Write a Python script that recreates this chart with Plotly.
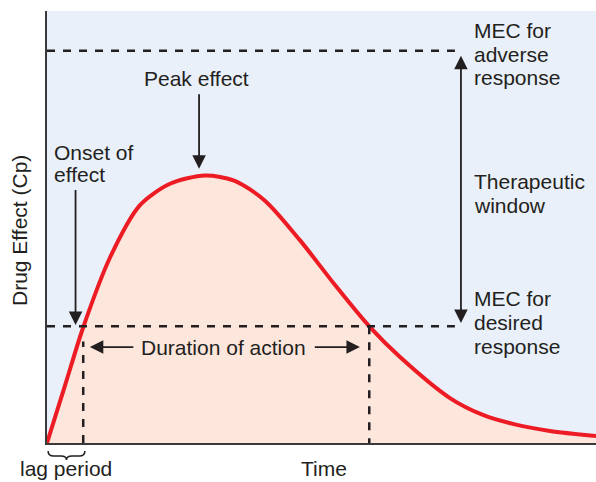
import plotly.graph_objects as go

# ---- data (arbitrary units: time 0-100, effect 0-100) ----
time = [0, 3.3, 6.6, 11.5, 16.9, 22.4, 28.8, 34.2, 39.7, 46.1, 52.5, 58.7, 64.3, 73.4, 79.4, 85.6, 91.6, 100]
effect = [0, 13.4, 26.8, 43.0, 55.0, 60.0, 61.9, 60.7, 56.1, 46.9, 36.5, 27.0, 19.9, 10.4, 6.5, 4.2, 2.8, 1.6]

mec_desired = 27.0
mec_adverse = 90.8
onset_time = 6.6
end_time = 58.7
peak_time = 27.7
peak_effect = 61.9

right_labels = [
    ("MEC for", 95.4), ("adverse", 90.0), ("response", 84.5),
    ("Therapeutic", 60.5), ("window", 55.0),
    ("MEC for", 33.5), ("desired", 27.9), ("response", 22.4),
]

TXT = "#231f20"
FONT = dict(family="Liberation Sans, Arial, sans-serif", size=21, color=TXT)
BLUE = "#e9f0f9"
PINK = "#fde6dc"
RED = "#ed1c24"

fig = go.Figure()

fig.add_trace(go.Scatter(
    x=time, y=effect, mode="lines",
    line=dict(color=RED, width=4, shape="spline", smoothing=0.8),
    fill="tozeroy", fillcolor=PINK, hoverinfo="skip", cliponaxis=False,
))

dash_x_end = 74.3
dash = dict(color=TXT, width=2.5, dash="8px,8px")
for lvl in (mec_adverse, mec_desired):
    fig.add_trace(go.Scatter(x=[0, dash_x_end], y=[lvl, lvl], mode="lines", line=dash, hoverinfo="skip"))
fig.add_trace(go.Scatter(x=[onset_time, onset_time], y=[0, mec_desired - 3.5], mode="lines", line=dash, hoverinfo="skip"))
fig.add_trace(go.Scatter(x=[end_time, end_time], y=[mec_desired, 0], mode="lines", line=dash, hoverinfo="skip"))

ann = []
def arrow(x, y, ax, ay, both=False):
    d = dict(x=x, y=y, ax=ax, ay=ay, xref="x", yref="y", axref="x", ayref="y",
             text="", showarrow=True, arrowhead=2, arrowsize=1.5, arrowwidth=1.8,
             arrowcolor=TXT, standoff=0, startstandoff=0)
    if both:
        d["arrowside"] = "end+start"
        d["startarrowhead"] = 2
        d["startarrowsize"] = 1.5
    ann.append(d)

def text(t, x, y, xanchor="left", xref="x", yref="y", **kw):
    ann.append(dict(x=x, y=y, xref=xref, yref=yref, text=t, showarrow=False,
                    xanchor=xanchor, yanchor="middle", font=FONT, **kw))

arrow(75.4, mec_desired + 0.8, 75.4, mec_adverse - 0.8, both=True)
arrow(5.2, mec_desired + 0.3, 5.2, 58.9)
arrow(peak_time, peak_effect + 1.6, peak_time, 81.1)
arrow(7.8, 22.2, 16.0, 22.2)
arrow(57.0, 22.2, 48.5, 22.2)

text("Duration of action", 32.2, 22.2, xanchor="center")
text("Peak effect", 27.3, 84.3, xanchor="center")
text("Onset of", 1.0, 67.2)
text("effect", 1.0, 62.1)
for t, y in right_labels:
    text(t, 77.5, y)
# outside plot area -> paper coordinates (range 0..100 maps to paper 0..1)
text("lag period", 3.5, -0.060, xanchor="center", yref="paper")
text("Time", 50.5, -0.060, xanchor="center", yref="paper")
text("Drug Effect (Cp)", -0.05, 0.492, xanchor="center", xref="paper", yref="paper", textangle=-90)

def py(px):
    return (443 - px) / 433.0
x0, x1 = 0.2, 6.9
mid = (x0 + x1) / 2
q = 1.0
yt, ym, yb = py(451), py(456), py(460)
brace = (f"M {x0},{yt} Q {x0},{ym} {x0+q},{ym} L {mid-q},{ym} Q {mid},{ym} {mid},{yb} "
         f"Q {mid},{ym} {mid+q},{ym} L {x1-q},{ym} Q {x1},{ym} {x1},{yt}")
shapes = [dict(type="path", path=brace, xref="x", yref="paper", line=dict(color=TXT, width=1.5))]

fig.update_layout(
    width=596, height=482, autosize=False,
    margin=dict(l=47, r=0, t=11, b=39),
    paper_bgcolor="white", plot_bgcolor=BLUE,
    showlegend=False, annotations=ann, shapes=shapes,
    xaxis=dict(range=[0, 100], showgrid=False, zeroline=False, showticklabels=False,
               ticks="", showline=True, linecolor="#3a3a3a", linewidth=2, fixedrange=True),
    yaxis=dict(range=[0, 100], showgrid=False, zeroline=False, showticklabels=False,
               ticks="", showline=True, linecolor="#3a3a3a", linewidth=2, fixedrange=True),
)

fig.write_html("out.html", config={"responsive": False, "displayModeBar": False},
               post_script="document.body.style.margin='0';document.body.style.overflow='hidden';")
